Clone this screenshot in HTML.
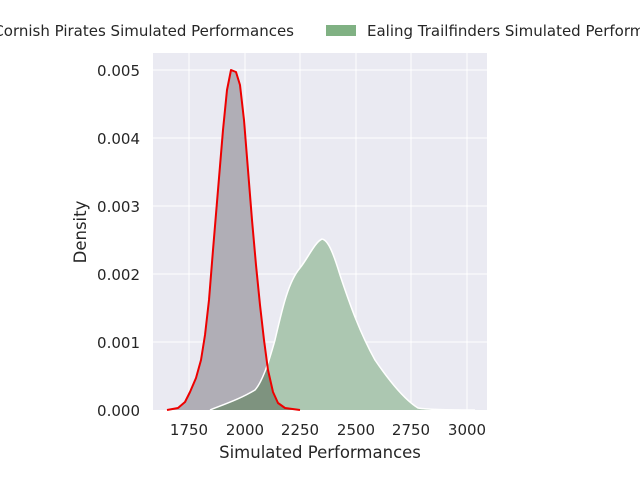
<!DOCTYPE html><html><head><style>body{margin:0;background:#fff}svg{font-family:"DejaVu Sans","Liberation Sans",sans-serif}</style></head><body>
<svg width="640" height="480" xmlns="http://www.w3.org/2000/svg">
<rect x="153" y="53" width="334" height="357" fill="#eaeaf2"/>
<g stroke="#fff" stroke-width="1">
<line x1="189" y1="53" x2="189" y2="410"/><line x1="245" y1="53" x2="245" y2="410"/><line x1="300" y1="53" x2="300" y2="410"/><line x1="356" y1="53" x2="356" y2="410"/><line x1="411" y1="53" x2="411" y2="410"/><line x1="467" y1="53" x2="467" y2="410"/>
<line x1="153" y1="70" x2="487" y2="70"/><line x1="153" y1="138" x2="487" y2="138"/><line x1="153" y1="206" x2="487" y2="206"/><line x1="153" y1="274" x2="487" y2="274"/><line x1="153" y1="342" x2="487" y2="342"/>
</g>
<defs><clipPath id="g"><path d="M210,410 C225,404 240,399 255,390 C262,382 268,365 275,340 C282,310 288,282 300,268 C308,258 315,242 322,239 C328,240 333,252 340,275 C350,305 360,333 375,360 C390,382 405,400 418,408 C430,410 470,410 475,410 Z"/></clipPath></defs>
<path d="M210,410 C225,404 240,399 255,390 C262,382 268,365 275,340 C282,310 288,282 300,268 C308,258 315,242 322,239 C328,240 333,252 340,275 C350,305 360,333 375,360 C390,382 405,400 418,408 C430,410 470,410 475,410 Z" fill="#acc7b1"/>
<path d="M167,410 L178,408 L185,402 L190,392 L196,378 L201,360 L205,335 L209,300 L213,250 L218,190 L223,130 L227,90 L231,70 L236,72 L240,85 L244,120 L248,170 L252,220 L256,265 L260,305 L264,340 L268,370 L273,392 L278,403 L285,408 L300,410 Z" fill="#b0aeb6"/>
<path clip-path="url(#g)" d="M167,410 L178,408 L185,402 L190,392 L196,378 L201,360 L205,335 L209,300 L213,250 L218,190 L223,130 L227,90 L231,70 L236,72 L240,85 L244,120 L248,170 L252,220 L256,265 L260,305 L264,340 L268,370 L273,392 L278,403 L285,408 L300,410 Z" fill="#7e937f"/>
<path d="M210,410 C225,404 240,399 255,390 C262,382 268,365 275,340 C282,310 288,282 300,268 C308,258 315,242 322,239 C328,240 333,252 340,275 C350,305 360,333 375,360 C390,382 405,400 418,408 C430,410 470,410 475,410" fill="none" stroke="#fff" stroke-width="1.5"/>
<path d="M167,410 L178,408 L185,402 L190,392 L196,378 L201,360 L205,335 L209,300 L213,250 L218,190 L223,130 L227,90 L231,70 L236,72 L240,85 L244,120 L248,170 L252,220 L256,265 L260,305 L264,340 L268,370 L273,392 L278,403 L285,408 L300,410" fill="none" stroke="#e00" stroke-width="2" stroke-linejoin="round"/>
<g font-size="15" fill="#262626" text-anchor="middle">
<text x="189" y="435">1750</text><text x="245" y="435">2000</text><text x="300" y="435">2250</text><text x="356" y="435">2500</text><text x="411" y="435">2750</text><text x="467" y="435">3000</text>
<text x="320" y="458" font-size="16.5">Simulated Performances</text>
<text transform="translate(86,232) rotate(-90)" font-size="16.5">Density</text>
</g>
<g font-size="15" fill="#262626" text-anchor="end">
<text x="140" y="416">0.000</text><text x="140" y="348">0.001</text><text x="140" y="280">0.002</text><text x="140" y="212">0.003</text><text x="140" y="144">0.004</text><text x="140" y="76">0.005</text>
</g>
<text x="294" y="36" font-size="15" fill="#262626" text-anchor="end">Cornish Pirates Simulated Performances</text>
<rect x="326" y="25" width="30" height="11" fill="#80b183"/>
<text x="367" y="36" font-size="15" fill="#262626">Ealing Trailfinders Simulated Performances</text>
</svg></body></html>
